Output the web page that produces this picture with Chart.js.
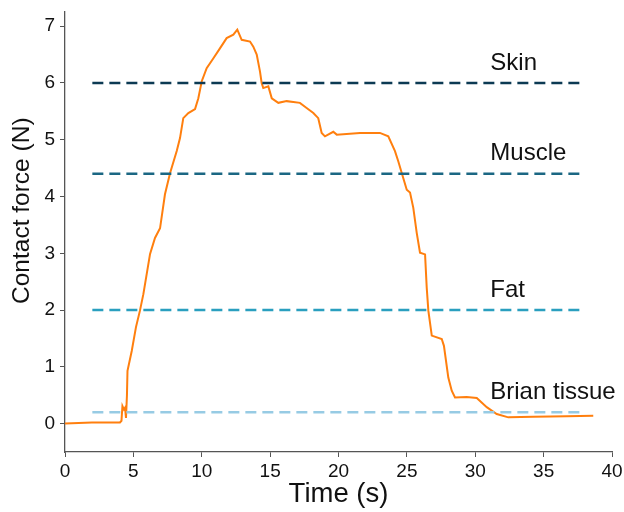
<!DOCTYPE html>
<html>
<head>
<meta charset="utf-8">
<script src="https://cdn.jsdelivr.net/npm/chart.js@4.4.1/dist/chart.umd.min.js"></script>
<style>
  html, body { margin: 0; padding: 0; background: #fff; }
  #wrap { width: 624px; height: 512px; }
</style>
</head>
<body>
<div id="wrap"><canvas id="forceChart"></canvas></div>
<script>
// contact force trace (s, N)
const timeS = [
  0, 1.97, 4.02, 4.13, 4.2, 4.31, 4.39, 4.46, 4.53, 4.57, 4.88, 5.19, 5.48, 5.73,
  6.22, 6.58, 6.95, 7.31, 7.68, 8.17, 8.41, 8.65, 9.02, 9.51, 9.75, 10.0, 10.36,
  10.84, 11.33, 11.82, 12.31, 12.6, 12.92, 13.53, 13.77, 14.02, 14.26, 14.38, 14.5,
  14.87, 15.12, 15.6, 16.21, 17.18, 17.67, 18.16, 18.52, 18.77, 19.01, 19.62, 19.87,
  21.57, 23.03, 23.64, 24.13, 24.37, 24.62, 24.99, 25.23, 25.47, 25.72, 25.96, 26.33,
  26.45, 26.57, 26.82, 27.55, 27.71, 28.03, 28.28, 28.52, 29.37, 30.11, 30.84, 31.57,
  32.42, 34.25, 36.69, 38.63
];
const forceN = [
  0, 0.02, 0.02, 0.05, 0.31, 0.25, 0.28, 0.1, 0.5, 0.93, 1.28, 1.7, 1.99, 2.28,
  2.99, 3.27, 3.44, 4.04, 4.41, 4.8, 5.03, 5.38, 5.47, 5.54, 5.73, 6.03, 6.26,
  6.43, 6.61, 6.79, 6.85, 6.94, 6.76, 6.73, 6.64, 6.5, 6.2, 6.0, 5.91,
  5.94, 5.73, 5.65, 5.68, 5.65, 5.56, 5.47, 5.38, 5.12, 5.06, 5.14, 5.09,
  5.12, 5.12, 5.06, 4.8, 4.62, 4.42, 4.12, 4.07, 3.8, 3.36, 3.01, 2.98,
  2.4, 1.99, 1.55, 1.49, 1.37, 0.81, 0.58, 0.46, 0.47, 0.45, 0.29, 0.17,
  0.11, 0.12, 0.13, 0.14
];

// tissue thresholds
const tissues = ["Skin", "Muscle", "Fat", "Brian tissue"];
const tissueForce = [6, 4.4, 2, 0.2];
const tissueSpan = [2, 38];
const tissueColors = ["#0c3a53", "#1b6783", "#2a9fbf", "#97cbe4"];

const xTicks = [0, 5, 10, 15, 20, 25, 30, 35, 40];
const yTicks = [0, 1, 2, 3, 4, 5, 6, 7];

const FONT = "'Liberation Sans', Arial, sans-serif";
const AXIS = "#555555";

const datasets = tissues.map((name, i) => ({
  label: name,
  data: tissueSpan.map((x) => ({ x: x, y: tissueForce[i] })),
  borderColor: tissueColors[i],
  borderWidth: 2.6,
  borderDash: [11, 6],
  pointRadius: 0,
  fill: false,
}));
datasets.push({
  label: "Contact force",
  data: timeS.map((t, i) => ({ x: t, y: forceN[i] })),
  borderColor: "#ff7f0e",
  borderWidth: 2,
  pointRadius: 0,
  tension: 0,
  fill: false,
});

// tissue names above their dashed lines, plus the y title
const tissueLabels = {
  id: "tissueLabels",
  afterDraw(chart) {
    const ctx = chart.ctx;
    const xs = chart.scales.x;
    const ys = chart.scales.y;
    ctx.save();
    ctx.font = "24px " + FONT;
    ctx.fillStyle = "#111";
    ctx.textAlign = "left";
    ctx.textBaseline = "middle";
    tissues.forEach((name, i) => {
      ctx.fillText(name, xs.getPixelForValue(31.1), ys.getPixelForValue(tissueForce[i]) - 20);
    });
    // y axis title sits a little above the middle in the original
    ctx.translate(22, ys.getPixelForValue(3.75));
    ctx.rotate(-Math.PI / 2);
    ctx.textAlign = "center";
    ctx.font = "24.5px " + FONT;
    ctx.fillText("Contact force (N)", 0, 0);
    ctx.restore();
  },
};

const ctx = document.getElementById("forceChart").getContext("2d");
new Chart(ctx, {
  type: "line",
  data: { datasets: datasets },
  plugins: [tissueLabels],
  options: {
    responsive: true,
    maintainAspectRatio: false,
    animation: false,
    layout: { padding: { top: 12, right: 12, bottom: 0, left: 0 } },
    plugins: {
      legend: { display: false },
      tooltip: { enabled: false },
    },
    scales: {
      x: {
        type: "linear",
        min: 0,
        max: 40,
        afterBuildTicks: (s) => { s.ticks = xTicks.map((v) => ({ value: v })); },
        afterFit: (s) => {
          s.height = 60;
          s.paddingLeft = 0;
          s.paddingRight = 0;
        },
        border: { color: AXIS, width: 1.3 },
        grid: { drawOnChartArea: false, drawTicks: true, tickLength: 5, color: AXIS },
        ticks: { color: "#111", font: { family: FONT, size: 19 }, padding: 3, maxRotation: 0 },
        title: {
          display: true,
          text: "Time (s)",
          color: "#111",
          font: { family: FONT, size: 27.5 },
          padding: { top: 0, bottom: 1 },
        },
      },
      y: {
        type: "linear",
        min: -0.5,
        max: 7.25,
        afterBuildTicks: (s) => { s.ticks = yTicks.map((v) => ({ value: v })); },
        afterFit: (s) => {
          s.width = 65;
          s.paddingTop = 0;
          s.paddingBottom = 0;
        },
        border: { color: AXIS, width: 1.3 },
        grid: { drawOnChartArea: false, drawTicks: true, tickLength: 5, color: AXIS },
        ticks: { color: "#111", font: { family: FONT, size: 19 }, padding: 5 },
      },
    },
  },
});
</script>
</body>
</html>
